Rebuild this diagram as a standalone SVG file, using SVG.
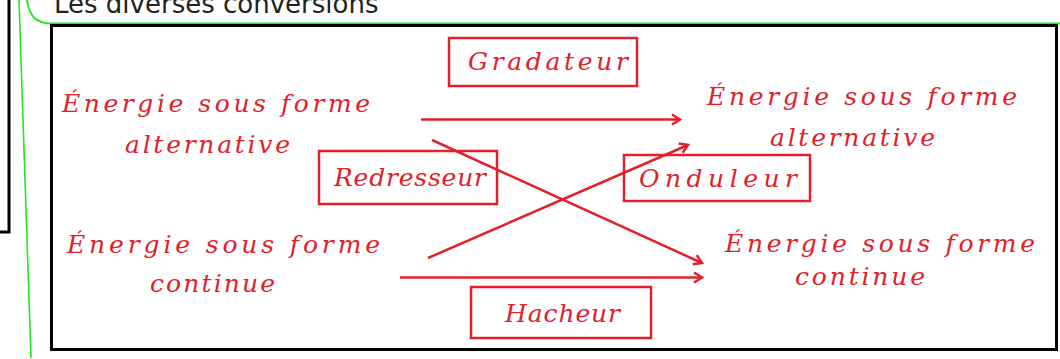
<svg xmlns="http://www.w3.org/2000/svg" width="1060" height="359" viewBox="0 0 1060 359">
<style>
.hand{font-family:"DejaVu Serif","Liberation Serif",serif;font-style:italic;font-size:25px;fill:#e2202a;}
.box{fill:none;stroke:#e2202a;stroke-width:2.5;}
.arr{fill:none;stroke:#e2202a;stroke-width:2.5;marker-end:url(#ah);}
.frame{fill:none;stroke:#000;stroke-width:3;}
</style>
<defs>
<marker id="ah" markerUnits="userSpaceOnUse" markerWidth="16" markerHeight="16" refX="12" refY="8" orient="auto">
<path d="M4,3 L12,8 L4,13" fill="none" stroke="#e2202a" stroke-width="2.5"/>
</marker>
</defs>
<rect width="1060" height="359" fill="#fff"/>
<g id="background">
<path class="frame" d="M0,232 L9,232 L9,0"/>
<path d="M19,0 L31,358" fill="none" stroke="#1ee81e" stroke-width="1.6"/>
<path d="M27,0 C29,16 36,23.5 52,23.5 L1060,23.5" fill="none" stroke="#1ee81e" stroke-width="1.8"/>
<text x="54" y="13" font-family="DejaVu Sans, sans-serif" font-size="26" fill="#222">Les diverses conversions</text>
<rect class="frame" x="51.5" y="25.5" width="1005" height="324"/>
</g>
<g id="connectors">
<line class="arr" x1="421" y1="119.5" x2="680" y2="119.5"/>
<line class="arr" x1="400" y1="277.5" x2="702" y2="277.5"/>
<line class="arr" x1="432" y1="140" x2="702" y2="263"/>
<line class="arr" x1="428" y1="258" x2="688" y2="145"/>
</g>
<g id="ac-left">
<text class="hand" x="62" y="112" textLength="308" lengthAdjust="spacing">Énergie sous forme</text>
<text class="hand" x="125" y="153" textLength="165" lengthAdjust="spacing">alternative</text>
</g>
<g id="ac-right">
<text class="hand" x="707" y="105" textLength="310" lengthAdjust="spacing">Énergie sous forme</text>
<text class="hand" x="770" y="146" textLength="165" lengthAdjust="spacing">alternative</text>
</g>
<g id="dc-left">
<text class="hand" x="67" y="253" textLength="313" lengthAdjust="spacing">Énergie sous forme</text>
<text class="hand" x="150" y="292" textLength="125" lengthAdjust="spacing">continue</text>
</g>
<g id="dc-right">
<text class="hand" x="725" y="252" textLength="310" lengthAdjust="spacing">Énergie sous forme</text>
<text class="hand" x="795" y="285" textLength="130" lengthAdjust="spacing">continue</text>
</g>
<g id="gradateur">
<rect class="box" x="449" y="38" width="188" height="48"/>
<text class="hand" x="468" y="70" textLength="160" lengthAdjust="spacing">Gradateur</text>
</g>
<g id="redresseur">
<rect class="box" x="319" y="151" width="178" height="53"/>
<text class="hand" x="334" y="186" textLength="152" lengthAdjust="spacing">Redresseur</text>
</g>
<g id="onduleur">
<rect class="box" x="624" y="155" width="186" height="46"/>
<text class="hand" x="639" y="187" textLength="158" lengthAdjust="spacing">Onduleur</text>
</g>
<g id="hacheur">
<rect class="box" x="471" y="287" width="180" height="51"/>
<text class="hand" x="505" y="322" textLength="115" lengthAdjust="spacing">Hacheur</text>
</g>
</svg>
